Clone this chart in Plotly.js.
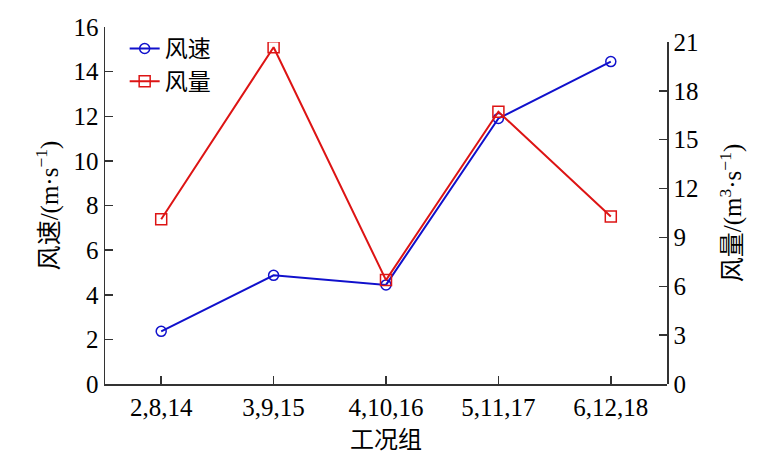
<!DOCTYPE html>
<html>
<head>
<meta charset="utf-8">
<script src="https://cdn.plot.ly/plotly-3.0.1.min.js"></script>
<style>html,body{margin:0;padding:0;background:#fff;}#chart{width:769px;height:468px;}</style>
</head>
<body>
<div id="chart"></div>
<script>
const categories = ["2,8,14", "3,9,15", "4,10,16", "5,11,17", "6,12,18"];
const windSpeed = [2.36, 4.87, 4.44, 11.9, 14.45];
const airVolume = [10.12, 20.68, 6.38, 16.72, 10.28];
const leftTicks = [0, 2, 4, 6, 8, 10, 12, 14, 16];
const rightTicks = [0, 3, 6, 9, 12, 15, 18, 21];

const FONT = '"Liberation Serif", "DejaVu Serif", "Times New Roman", Times, serif';
const CJK = '"Noto Sans CJK SC", sans-serif';

const traces = [
  {
    x: categories, y: windSpeed, name: '风速', type: 'scatter', mode: 'lines+markers',
    line: {color: '#1010cc', width: 2},
    marker: {symbol: 'circle-open', size: 10, color: '#1010cc', line: {width: 1.5, color: '#1010cc'}},
    xaxis: 'x', yaxis: 'y'
  },
  {
    x: categories, y: airVolume, name: '风量', type: 'scatter', mode: 'lines+markers',
    line: {color: '#dd1414', width: 2},
    marker: {symbol: 'square-open', size: 11, color: '#dd1414', line: {width: 1.5, color: '#dd1414'}},
    xaxis: 'x', yaxis: 'y2'
  }
];

const layout = {
  width: 769, height: 468,
  margin: {l: 105, r: 102, t: 27, b: 84},
  paper_bgcolor: '#fff', plot_bgcolor: 'rgba(0,0,0,0)',
  font: {family: FONT, size: 25, color: '#000'},
  showlegend: true,
  legend: {x: 0.035, y: 1.0, xanchor: 'left', yanchor: 'top', bgcolor: 'rgba(0,0,0,0)',
           font: {family: CJK, size: 23, color: '#000'}, tracegroupgap: 4},
  xaxis: {
    type: 'category', range: [-0.5, 4.5], anchor: 'y',
    showline: true, linecolor: '#333', linewidth: 1.5, mirror: false,
    ticks: 'inside', ticklen: 8, tickcolor: '#333', tickwidth: 1.5,
    showgrid: false, zeroline: false,
    tickfont: {family: FONT, size: 25, color: '#000'},
    title: {text: '工况组', font: {family: CJK, size: 24, color: '#000'}, standoff: 2}
  },
  yaxis: {
    range: [0, 16], tickvals: leftTicks, ticktext: leftTicks.map(String), domain: [0, 1],
    showline: true, linecolor: '#333', linewidth: 1.5,
    ticks: 'inside', ticklen: 8, tickcolor: '#333', tickwidth: 1.5,
    showgrid: false, zeroline: false,
    tickfont: {family: FONT, size: 25, color: '#000'},
    title: {text: '<span style="font-family:\'Noto Sans CJK SC\'">风速</span>/(m·s<sup>−1</sup>)', font: {family: FONT, size: 25, color: '#000'}, standoff: 8}
  },
  yaxis2: {
    side: 'right', anchor: 'x', domain: [0, 0.958],
    range: [0, 21], tickvals: rightTicks, ticktext: rightTicks.map(String),
    showline: true, linecolor: '#333', linewidth: 1.5,
    ticks: 'inside', ticklen: 8, tickcolor: '#333', tickwidth: 1.5,
    showgrid: false, zeroline: false,
    tickfont: {family: FONT, size: 25, color: '#000'},
    title: {text: '<span style="font-family:\'Noto Sans CJK SC\'">风量</span>/(m<sup>3</sup>·s<sup>−1</sup>)', font: {family: FONT, size: 25, color: '#000'}, standoff: 26}
  }
};

Plotly.newPlot('chart', traces, layout, {staticPlot: true, displayModeBar: false});
</script>
</body>
</html>
